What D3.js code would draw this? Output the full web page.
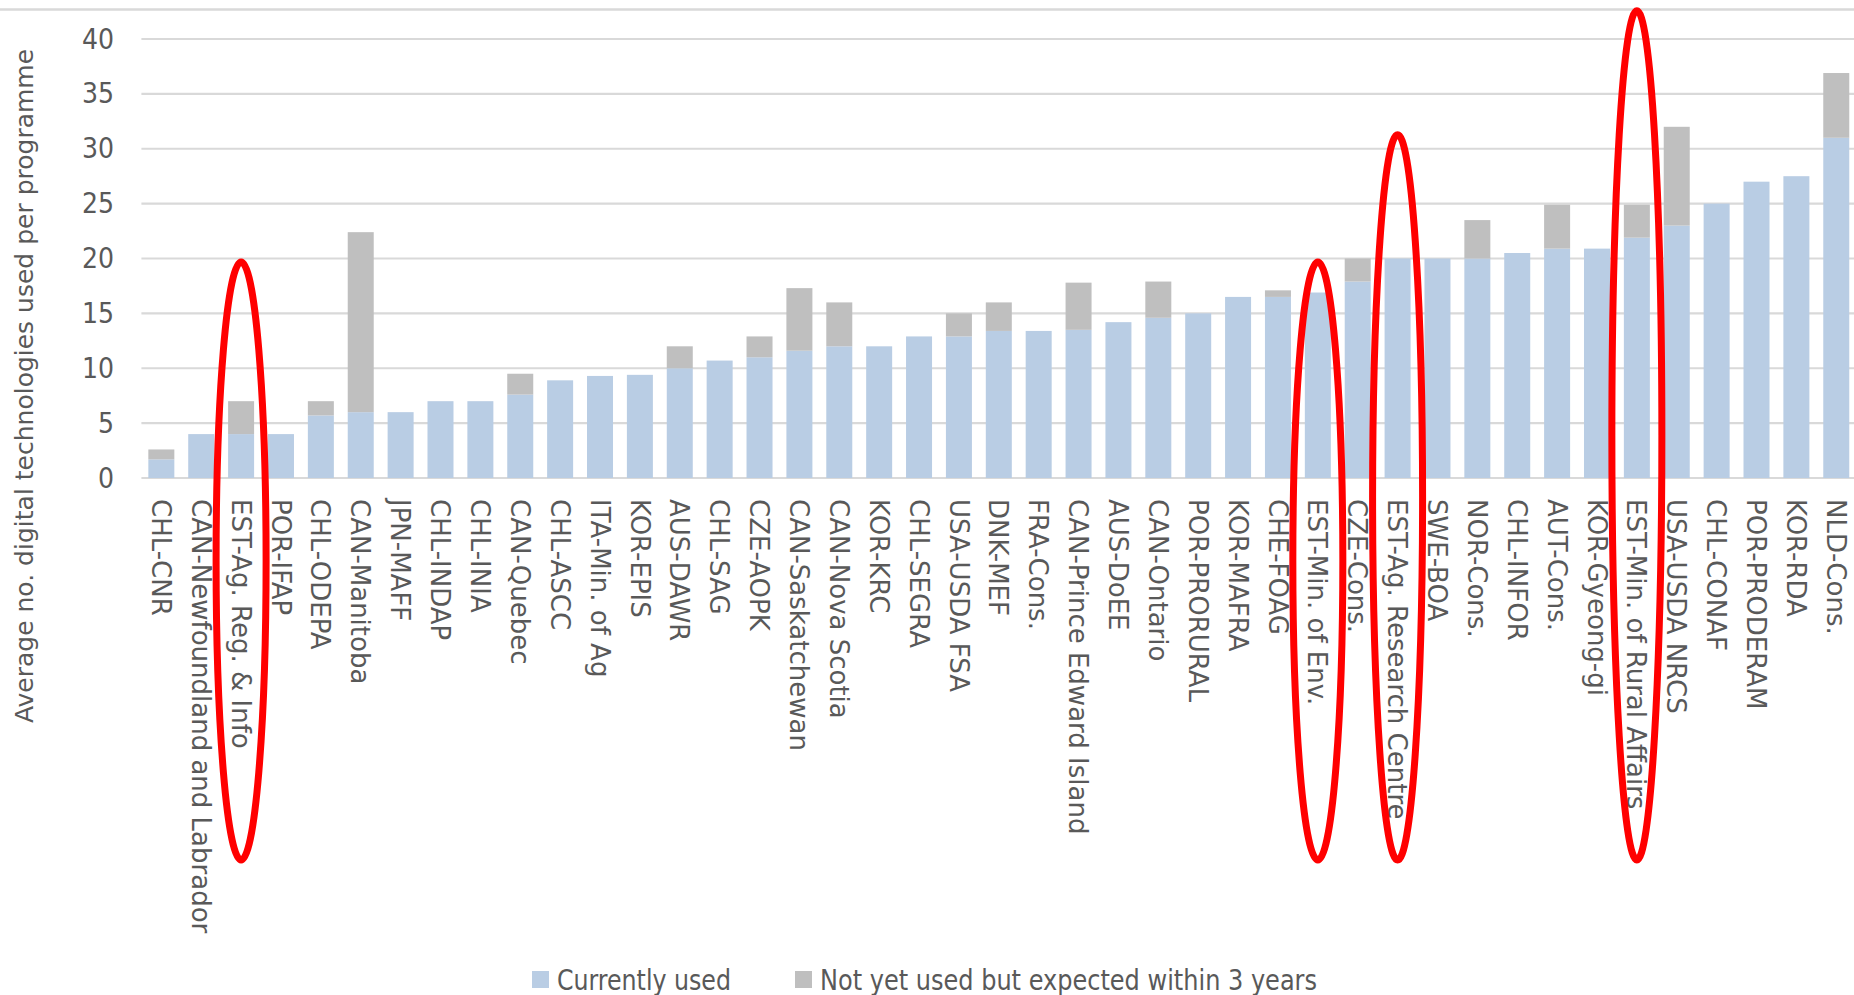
<!DOCTYPE html>
<html>
<head>
<meta charset="utf-8">
<script src="https://cdn.jsdelivr.net/npm/d3@7"></script>
<style>
  html, body { margin: 0; padding: 0; background: #fff; }
  svg { display: block; }
</style>
</head>
<body>
<script>
const categories = [
  "CHL-CNR", "CAN-Newfoundland and Labrador", "EST-Ag. Reg. & Info", "POR-IFAP", "CHL-ODEPA",
  "CAN-Manitoba", "JPN-MAFF", "CHL-INDAP", "CHL-INIA", "CAN-Quebec", "CHL-ASCC", "ITA-Min. of Ag",
  "KOR-EPIS", "AUS-DAWR", "CHL-SAG", "CZE-AOPK", "CAN-Saskatchewan", "CAN-Nova Scotia", "KOR-KRC",
  "CHL-SEGRA", "USA-USDA FSA", "DNK-MEF", "FRA-Cons.", "CAN-Prince Edward Island", "AUS-DoEE",
  "CAN-Ontario", "POR-PRORURAL", "KOR-MAFRA", "CHE-FOAG", "EST-Min. of Env.", "CZE-Cons.",
  "EST-Ag. Research Centre", "SWE-BOA", "NOR-Cons.", "CHL-INFOR", "AUT-Cons.", "KOR-Gyeong-gi",
  "EST-Min. of Rural Affairs", "USA-USDA NRCS", "CHL-CONAF", "POR-PRODERAM", "KOR-RDA", "NLD-Cons."
];
const currentlyUsed = [
  1.7, 4, 4, 4, 5.7, 6, 6, 7, 7, 7.6, 8.9, 9.3, 9.4, 10, 10.7, 11, 11.6, 12, 12, 12.9, 12.9, 13.4,
  13.4, 13.5, 14.2, 14.6, 15, 16.5, 16.5, 16.9, 17.9, 20, 20, 20, 20.5, 20.9, 20.9, 21.9, 23, 25,
  27, 27.5, 31
];
const notYetUsed = [
  0.9, 0, 3, 0, 1.3, 16.4, 0, 0, 0, 1.9, 0, 0, 0, 2, 0, 1.9, 5.7, 4, 0, 0, 2.1, 2.6,
  0, 4.3, 0, 3.3, 0, 0, 0.6, 0, 2.1, 0, 0, 3.5, 0, 4, 0, 3, 9, 0,
  0, 0, 5.9
];
const yTicks = [0, 5, 10, 15, 20, 25, 30, 35, 40];
const seriesNames = ["Currently used", "Not yet used but expected within 3 years"];
const yTitle = "Average no. digital technologies used per programme";
// red hand-drawn highlight ellipses: category and value reached by the top of the ellipse
const highlightCats = ["EST-Ag. Reg. & Info", "EST-Min. of Env.", "EST-Ag. Research Centre", "EST-Min. of Rural Affairs"];
const highlightTops = [20, 20, 31.6, 42.9];

const W = 1854, H = 995;
const textGray = "#595959";
const gridGray = "#d9d9d9";
const colors = ["#b9cde4", "#bfbfbf"];

const svg = d3.select("body").append("svg").attr("width", W).attr("height", H);

const x = d3.scaleBand().domain(categories).range([141.4, 1856.2]).paddingInner(0.348).paddingOuter(0.174);
const y = d3.scaleLinear().domain([0, 40]).range([478, 39]);

// top border line
svg.append("line").attr("x1", 0).attr("x2", W).attr("y1", 9.5).attr("y2", 9.5)
  .attr("stroke", gridGray).attr("stroke-width", 2.5);

// gridlines
svg.append("g").selectAll("line").data(yTicks).join("line")
  .attr("x1", 141.4).attr("x2", W)
  .attr("y1", d => y(d)).attr("y2", d => y(d))
  .attr("stroke", gridGray).attr("stroke-width", 2.2);

// y tick labels
svg.append("g").selectAll("text").data(yTicks).join("text")
  .attr("x", 114).attr("y", d => y(d))
  .attr("text-anchor", "end").attr("dominant-baseline", "central")
  .attr("font-family", "'Liberation Sans Narrow', 'Arial Narrow', 'DejaVu Sans Condensed', sans-serif")
  .attr("font-size", 28).attr("fill", textGray)
  .text(d => d);

// stacked bars
const rows = categories.map((c, i) => ({ cat: c, a: currentlyUsed[i], b: notYetUsed[i] }));
const stack = d3.stack().keys(["a", "b"])(rows);
svg.append("g").selectAll("g").data(stack).join("g")
  .attr("fill", (d, i) => colors[i])
  .selectAll("rect").data(d => d.filter(s => s[1] - s[0] > 0)).join("rect")
  .attr("x", d => x(d.data.cat))
  .attr("width", x.bandwidth())
  .attr("y", d => y(d[1]))
  .attr("height", d => y(d[0]) - y(d[1]));

// x labels
svg.append("g").selectAll("text").data(categories).join("text")
  .attr("transform", d => `translate(${x(d) + x.bandwidth() / 2},499) rotate(90)`)
  .attr("dy", "0.36em")
  .attr("text-anchor", "start")
  .attr("font-family", "'DejaVu Sans', Verdana, sans-serif")
  .attr("font-size", 26).attr("fill", textGray)
  .text(d => d);

// y title
svg.append("text")
  .attr("transform", "translate(24.5,386) rotate(-90)")
  .attr("text-anchor", "middle").attr("dominant-baseline", "central")
  .attr("font-family", "'DejaVu Sans', Verdana, sans-serif")
  .attr("font-size", 25).attr("fill", textGray)
  .text(yTitle);

// legend
const legendX = [532, 795];
const legendTextLen = [174, 497];
const lg = svg.append("g");
seriesNames.forEach((name, i) => {
  lg.append("rect").attr("x", legendX[i]).attr("y", 971).attr("width", 17).attr("height", 17).attr("fill", colors[i]);
  lg.append("text").attr("x", legendX[i] + 25).attr("y", 980)
    .attr("dominant-baseline", "central")
    .attr("font-family", "'Liberation Sans Narrow', 'Arial Narrow', 'DejaVu Sans Condensed', sans-serif")
    .attr("font-size", 28).attr("fill", textGray)
    .attr("textLength", legendTextLen[i]).attr("lengthAdjust", "spacingAndGlyphs")
    .text(name);
});

// red highlight ellipses
const ellipseBottom = 860;
svg.append("g").selectAll("ellipse").data(highlightCats).join("ellipse")
  .attr("cx", d => x(d) + x.bandwidth() / 2)
  .attr("cy", (d, i) => (y(highlightTops[i]) + 3.5 + ellipseBottom) / 2)
  .attr("rx", 25)
  .attr("ry", (d, i) => (ellipseBottom - (y(highlightTops[i]) + 3.5)) / 2)
  .attr("fill", "none").attr("stroke", "#ff0000").attr("stroke-width", 7);
</script>
</body>
</html>
